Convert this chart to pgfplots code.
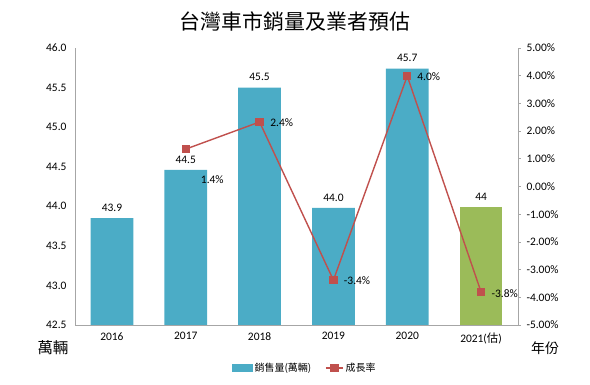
\documentclass[border=0pt]{standalone}
\usepackage{fontspec}
\setmainfont{Carlito}
\newfontfamily\cjk{Noto Sans CJK TC}
\usepackage{pgfplots}
\pgfplotsset{compat=1.18}
\definecolor{barblue}{HTML}{4BACC6}
\definecolor{bargreen}{HTML}{9BBB59}
\definecolor{linered}{HTML}{C0504D}
\definecolor{axgray}{HTML}{A6A6A6}
\begin{document}
\begin{tikzpicture}[font=\fontsize{11.5}{13}\selectfont]
\path (-75bp,-60bp) rectangle (515bp,325bp);
\begin{axis}[
  scale only axis, width=443bp, height=277bp,
  at={(0,0)}, anchor=south west,
  xmin=-0.5, xmax=5.5, ymin=42.5, ymax=46.0,
  axis x line*=bottom, axis y line*=left,
  axis line style={draw=axgray, line width=0.8bp, -},
  xtick={0,...,5},
  xticklabels={2016,2017,2018,2019,2020,{2021({\cjk 估})}},
  ytick={42.5,43,...,46},
  major tick length=0pt,
  /pgf/number format/assume math mode=true,
  yticklabel style={xshift=-5bp, /pgf/number format/.cd, fixed, fixed zerofill, precision=1},
  xticklabel style={yshift=-4bp},
  ybar, bar width=0.58,
  nodes near coords, point meta=explicit symbolic,
  every node near coord/.append style={yshift=3bp, text=black},
]
\addplot[fill=barblue, draw=none, bar shift=0pt] coordinates {
  (0,43.85) [43.9]
  (1,44.46) [44.5]
  (2,45.50) [45.5]
  (3,43.98) [44.0]
  (4,45.74) [45.7]
};
\addplot[fill=bargreen, draw=none, bar shift=0pt] coordinates {
  (5,43.99) [44]
};
\end{axis}
\begin{axis}[
  scale only axis, width=443bp, height=277bp,
  at={(0,0)}, anchor=south west,
  xmin=-0.5, xmax=5.5, ymin=-5, ymax=5,
  axis x line=none, axis y line*=right,
  axis line style={draw=axgray, line width=0.8bp, -},
  ytick={-5,...,5},
  tick align=outside, major tick length=3bp,
  tick style={draw=axgray, line width=0.8bp},
  /pgf/number format/assume math mode=true,
  yticklabel style={xshift=2bp},
  yticklabel={\pgfmathprintnumber[fixed,fixed zerofill,precision=2]{\tick}\%},
  legend style={at={(0.519,-0.155)}, anchor=center, legend columns=2, draw=none,
    font=\cjk\fontsize{10}{12}\selectfont, /tikz/every even column/.append style={column sep=12bp}},
]
\addlegendimage{legend image code/.code={\fill[barblue] (0bp,-3.5bp) rectangle (20bp,3.5bp);}}
\addlegendentry{銷售量(萬輛)}
\addplot[linered, line width=1.4bp, mark=square*, mark size=3.5bp] coordinates {
  (1,1.35) (2,2.33) (3,-3.38) (4,3.99) (5,-3.81)
};
\addlegendentry{成長率}
\node at (axis cs:1.36,0.23) {1.4\%};
\node at (axis cs:2.30,2.29) {2.4\%};
\node at (axis cs:3.32,-3.41) {-3.4\%};
\node at (axis cs:4.29,3.95) {4.0\%};
\node at (axis cs:5.32,-3.88) {-3.8\%};
\end{axis}
\node[font=\cjk\fontsize{21}{24}\selectfont] at (220bp,303bp) {台灣車市銷量及業者預估};
\node[font=\cjk\fontsize{15.5}{17}\selectfont] at (-22bp,-23bp) {萬輛};
\node[font=\cjk\fontsize{14}{16}\selectfont] at (470bp,-23bp) {年份};
\end{tikzpicture}
\end{document}
